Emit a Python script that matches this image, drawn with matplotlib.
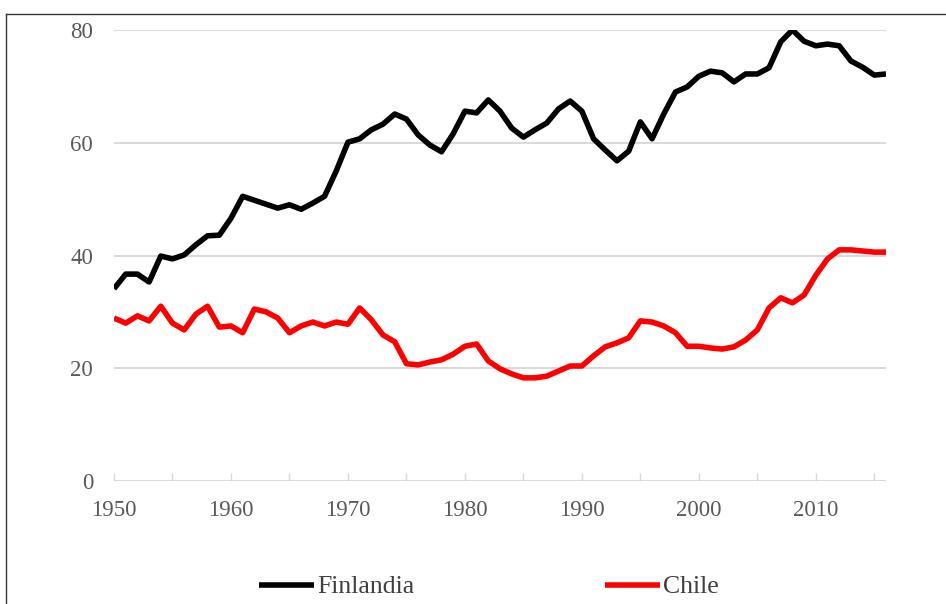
import matplotlib.pyplot as plt
from matplotlib.lines import Line2D

# Data
years = list(range(1950, 2017))
finlandia = [34.1, 36.7, 36.7, 35.3, 39.9, 39.4, 40.1, 41.9, 43.5, 43.6,
             46.6, 50.5, 49.8, 49.1, 48.4, 49.0, 48.2, 49.3, 50.5, 55.0,
             60.1, 60.7, 62.3, 63.3, 65.1, 64.2, 61.4, 59.6, 58.4, 61.6,
             65.6, 65.3, 67.6, 65.6, 62.6, 61.0, 62.3, 63.5, 66.0, 67.4,
             65.6, 60.7, 58.7, 56.8, 58.5, 63.7, 60.7, 65.1, 69.0, 69.9,
             71.8, 72.7, 72.4, 70.8, 72.2, 72.2, 73.3, 77.9, 80.0, 78.0,
             77.2, 77.5, 77.2, 74.5, 73.4, 72.0, 72.2]
chile = [28.9, 28.0, 29.3, 28.4, 31.0, 28.0, 26.8, 29.6, 31.0, 27.3,
         27.5, 26.3, 30.5, 30.0, 28.9, 26.3, 27.5, 28.2, 27.5, 28.2,
         27.8, 30.7, 28.6, 25.9, 24.7, 20.8, 20.6, 21.1, 21.5, 22.5,
         23.9, 24.3, 21.3, 19.9, 19.0, 18.3, 18.3, 18.6, 19.5, 20.4,
         20.4, 22.2, 23.8, 24.5, 25.4, 28.4, 28.2, 27.5, 26.3, 23.9,
         23.9, 23.6, 23.4, 23.8, 25.0, 26.8, 30.7, 32.5, 31.6, 33.0,
         36.5, 39.4, 41.0, 41.0, 40.8, 40.6, 40.6]
y_ticks = [0, 20, 40, 60, 80]
x_labels = list(range(1950, 2011, 10))

plt.rcParams['font.family'] = ['Liberation Serif', 'DejaVu Serif']

W, H = 946, 604
fig = plt.figure(figsize=(W / 100, H / 100), dpi=100)
ax = fig.add_axes([114 / W, 1 - 481 / H, (886 - 114) / W, (481 - 30) / H])

grid_col = '#d9d9d9'
for v in y_ticks:
    ax.axhline(v, color=grid_col, lw=1.5, zorder=1)

ax.plot(years, finlandia, color='black', lw=4, solid_joinstyle='round',
        solid_capstyle='butt', label='Finlandia', zorder=3)
ax.plot(years, chile, color='#ff0000', lw=4, solid_joinstyle='round',
        solid_capstyle='butt', label='Chile', zorder=3)

ax.set_xlim(1950, 2016)
ax.set_ylim(0, 80)
for s in ax.spines.values():
    s.set_visible(False)

tick_pos = list(range(1950, 2016, 5))
ax.set_xticks(tick_pos)
ax.set_xticklabels([str(y) if y in x_labels else '' for y in tick_pos])
ax.tick_params(axis='x', direction='in', length=6, width=1, color=grid_col,
               labelsize=16.5, labelcolor='#595959', pad=14)
ax.set_yticks(y_ticks)
ax.tick_params(axis='y', length=0, labelsize=16.5, labelcolor='#595959', pad=15)

fig.legend(loc='center', bbox_to_anchor=(489 / W, 1 - 587 / H), ncol=2,
           frameon=False, fontsize=18.5, handlelength=2.15, handletextpad=0.12,
           columnspacing=7.4, labelcolor='#404040')

# chart frame (cropped Excel chart box)
fig.add_artist(Line2D([6 / W, 1], [1 - 14 / H, 1 - 14 / H], color='#333333', lw=1))
fig.add_artist(Line2D([6 / W, 6 / W], [0, 1 - 14 / H], color='#333333', lw=1))

fig.savefig('out.png', dpi=100)
